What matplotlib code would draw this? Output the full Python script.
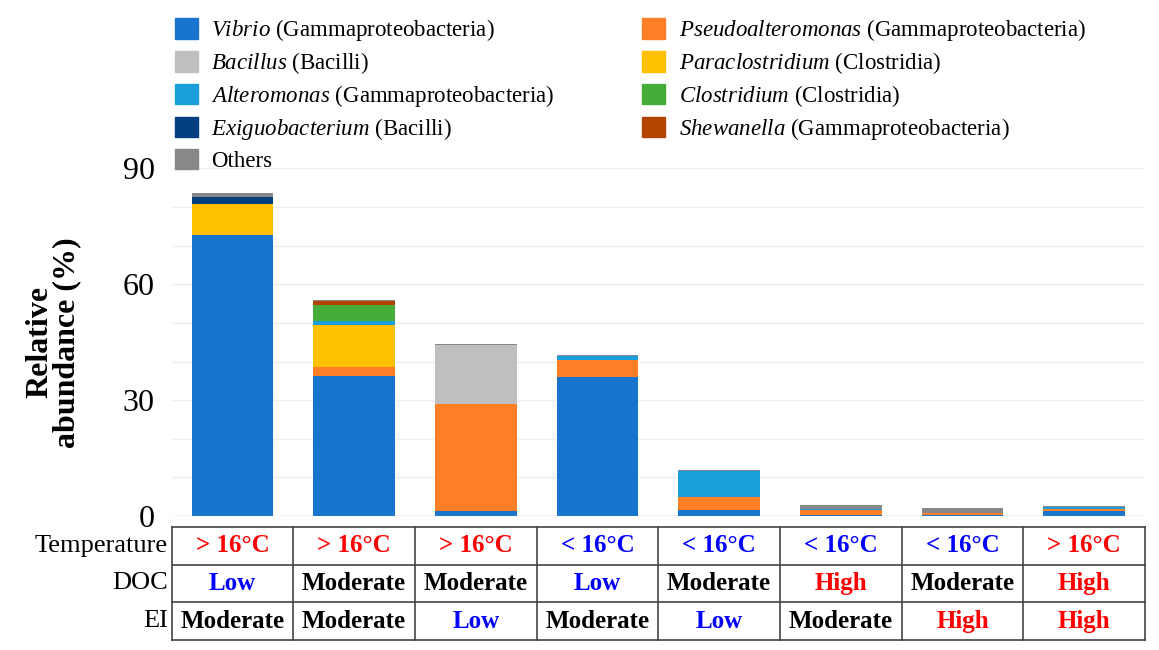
import matplotlib.pyplot as plt
from matplotlib.patches import Patch

plt.rcParams['font.family'] = 'Liberation Serif'
plt.rcParams['font.serif'] = ['Liberation Serif']
plt.rcParams['mathtext.fontset'] = 'custom'
plt.rcParams['mathtext.it'] = 'serif:italic'
plt.rcParams['mathtext.rm'] = 'serif'

taxa = ["Vibrio", "Pseudoalteromonas", "Bacillus", "Paraclostridium", "Alteromonas",
        "Clostridium", "Exiguobacterium", "Shewanella", "Others"]
classes = ["Gammaproteobacteria", "Gammaproteobacteria", "Bacilli", "Clostridia",
           "Gammaproteobacteria", "Clostridia", "Bacilli", "Gammaproteobacteria", ""]
colors = ["#1874cd", "#ff7f27", "#bfbfbf", "#ffc000", "#1a9fdb",
          "#46ad3b", "#033f7f", "#b34400", "#888888"]

# values per taxon across 8 samples (%)
vibrio = [72.7, 36.2, 1.3, 36.0, 1.5, 0.3, 0.2, 1.4]
pseudo = [0.0, 2.3, 27.7, 4.5, 3.5, 1.2, 0.7, 0.5]
bacillus = [0.0, 0.0, 15.3, 0.0, 0.0, 0.0, 0.0, 0.0]
paraclos = [8.0, 10.9, 0.0, 0.0, 0.0, 0.0, 0.0, 0.0]
altero = [0.0, 1.2, 0.0, 0.9, 6.6, 0.4, 0.0, 0.4]
clostr = [0.0, 4.0, 0.0, 0.0, 0.0, 0.0, 0.0, 0.0]
exiguo = [2.0, 0.0, 0.0, 0.0, 0.0, 0.0, 0.0, 0.0]
shewan = [0.0, 1.0, 0.0, 0.0, 0.0, 0.0, 0.0, 0.0]
others = [0.8, 0.3, 0.2, 0.2, 0.4, 0.9, 1.2, 0.3]
series = [vibrio, pseudo, bacillus, paraclos, altero, clostr, exiguo, shewan, others]

temperature = ["> 16°C", "> 16°C", "> 16°C", "< 16°C", "< 16°C", "< 16°C", "< 16°C", "> 16°C"]
doc = ["Low", "Moderate", "Moderate", "Low", "Moderate", "High", "Moderate", "High"]
ei = ["Moderate", "Moderate", "Low", "Moderate", "Low", "Moderate", "High", "High"]
level_color = {"Low": "#0000ff", "Moderate": "black", "High": "#ff0000",
               "> 16°C": "#ff0000", "< 16°C": "#0000ff"}

fig = plt.figure(figsize=(11.59, 6.5), dpi=100)
ax = fig.add_axes([0.148, 0.206, 0.840, 0.535])
x = list(range(len(vibrio)))
bottom = [0.0] * len(x)
for vals, c in zip(series, colors):
    ax.bar(x, vals, bottom=bottom, width=0.67, color=c, zorder=3)
    bottom = [b + v for b, v in zip(bottom, vals)]

ax.set_xlim(-0.5, 7.5)
ax.set_ylim(0, 90)
ax.set_yticks([0, 30, 60, 90])
ax.set_yticks(range(10, 90, 10), minor=True)
ax.grid(axis='y', which='both', color='#eeeeee', lw=1, zorder=0)
ax.set_xticks([])
ax.tick_params(axis='y', length=0, labelsize=23, pad=12, which='both')
for s in ax.spines.values():
    s.set_visible(False)
ax.axhline(0, color='#dddddd', lw=1, zorder=2)
ax.set_ylabel("Relative\nabundance (%)", fontsize=23, fontweight='bold', linespacing=0.9, labelpad=30)

handles = []
labels = []
for t, cl, c in zip(taxa, classes, colors):
    handles.append(Patch(color=c))
    labels.append(t if t == "Others" else r"$\it{" + t + "}$ (" + cl + ")")
order = [0, 2, 4, 6, 8, 1, 3, 5, 7]
fig.legend([handles[i] for i in order], [labels[i] for i in order], ncol=2,
           loc='upper left', bbox_to_anchor=(0.133, 1.005), frameon=False, fontsize=16.5,
           handlelength=1.0, handleheight=1.0, handletextpad=0.6, columnspacing=3.8,
           labelspacing=0.3)

# condition table
tb = fig.add_axes([0.148, 0.0154, 0.840, 0.174])
tb.set_xlim(-0.5, 7.5)
tb.set_ylim(0, 3)
tb.axis('off')
for yv in [0, 1, 2, 3]:
    tb.plot([-0.5, 7.5], [yv, yv], color='#444444', lw=1.2, clip_on=False)
for xv in range(9):
    tb.plot([xv - 0.5, xv - 0.5], [0, 3], color='#444444', lw=1.2, clip_on=False)
rows = [("Temperature", temperature), ("DOC", doc), ("EI", ei)]
for r, (name, vals) in enumerate(rows):
    yc = 2.5 - r
    tb.text(-0.53, yc, name, ha='right', va='center', fontsize=19)
    for i, v in enumerate(vals):
        tb.text(i, yc, v, ha='center', va='center', fontsize=18, fontweight='bold',
                color=level_color[v])

fig.savefig("out.png", dpi=100)
